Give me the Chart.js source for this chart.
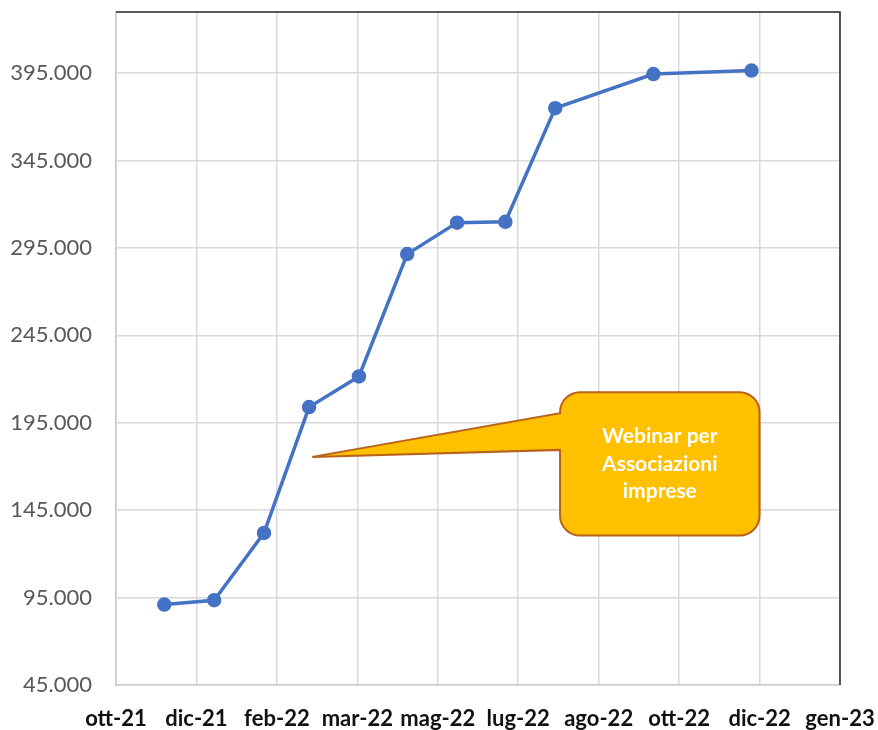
<!DOCTYPE html>
<html>
<head>
<meta charset="utf-8">
<script src="https://cdn.jsdelivr.net/npm/chart.js"></script>
<style>
  body { margin: 0; background: #fff; }
  #wrap { width: 878px; height: 730px; position: relative; }
</style>
</head>
<body>
<div id="wrap"><canvas id="chart"></canvas></div>
<script>
// asse x: etichette ogni 50 giorni a partire dal 31/10/2021
const xLabels = ['ott-21', 'dic-21', 'feb-22', 'mar-22', 'mag-22', 'lug-22', 'ago-22', 'ott-22', 'dic-22', 'gen-23'];
const xStart = '2021-10-31';
const xStepDays = 50;

// date di rilevazione (fine mese) e valori cumulati
const dates = ['2021-11-30', '2021-12-31', '2022-01-31', '2022-02-28', '2022-03-31', '2022-04-30',
               '2022-05-31', '2022-06-30', '2022-07-31', '2022-09-30', '2022-11-30'];
const values = [91000, 93500, 132000, 204000, 221500, 291500, 309500, 310000, 375000, 394500, 396500];

const yTicks = [45000, 95000, 145000, 195000, 245000, 295000, 345000, 395000];
const yMax = 430000;

// fumetto
const calloutLines = ['Webinar per', 'Associazioni', 'imprese'];

function dayOffset(d) {
    const a = new Date(xStart + 'T00:00:00Z');
    const b = new Date(d + 'T00:00:00Z');
    return Math.round((b - a) / 86400000);
}

function fmt(v) {
    return String(v).replace(/\B(?=(\d{3})+(?!\d))/g, '.');
}

const points = dates.map((d, i) => ({ x: dayOffset(d), y: values[i] }));
const xMax = xStepDays * (xLabels.length - 1);

const frame = {
    id: 'frame',
    afterDraw(chart) {
        const a = chart.chartArea;
        const ctx = chart.ctx;
        ctx.save();
        ctx.strokeStyle = '#262626';
        ctx.lineWidth = 1.5;
        ctx.beginPath();
        ctx.moveTo(a.left, a.top);
        ctx.lineTo(a.right, a.top);
        ctx.lineTo(a.right, a.bottom);
        ctx.stroke();
        ctx.restore();
    }
};

const callout = {
    id: 'callout',
    afterDatasetsDraw(chart) {
        const x = chart.scales.x, y = chart.scales.y;
        const ctx = chart.ctx;
        // punta del fumetto e riquadro, in unita' degli assi
        const tipX = x.getPixelForValue(122), tipY = y.getPixelForValue(175500);
        const l = x.getPixelForValue(276), r = x.getPixelForValue(400);
        const t = y.getPixelForValue(212500), b = y.getPixelForValue(130500);
        const baseHi = y.getPixelForValue(200500), baseLo = y.getPixelForValue(179500);
        const rad = 20;
        ctx.save();
        ctx.beginPath();
        ctx.moveTo(tipX, tipY);
        ctx.lineTo(l, baseLo);
        ctx.arcTo(l, b, r, b, rad);
        ctx.arcTo(r, b, r, t, rad);
        ctx.arcTo(r, t, l, t, rad);
        ctx.arcTo(l, t, l, b, rad);
        ctx.lineTo(l, baseHi);
        ctx.closePath();
        ctx.fillStyle = '#FFC000';
        ctx.fill();
        ctx.strokeStyle = '#B9621B';
        ctx.lineWidth = 2;
        ctx.lineJoin = 'miter';
        ctx.stroke();

        ctx.fillStyle = '#ffffff';
        ctx.font = 'bold 21px Lato';
        ctx.textAlign = 'center';
        ctx.textBaseline = 'middle';
        const cx = (l + r) / 2, cy = (t + b) / 2;
        const lh = 27.5;
        calloutLines.forEach((s, i) => {
            ctx.fillText(s, cx, cy + (i - (calloutLines.length - 1) / 2) * lh);
        });
        ctx.restore();
    }
};

new Chart(document.getElementById('chart'), {
    type: 'line',
    data: {
        datasets: [{
            data: points,
            borderColor: '#4472C4',
            backgroundColor: '#4472C4',
            borderWidth: 3.5,
            pointRadius: 5.5,
            pointHoverRadius: 5.5,
            tension: 0
        }]
    },
    options: {
        responsive: true,
        maintainAspectRatio: false,
        animation: false,
        layout: { padding: { top: 12, right: 38, left: 0, bottom: 0 } },
        plugins: {
            legend: { display: false },
            tooltip: { enabled: false }
        },
        scales: {
            x: {
                type: 'linear',
                min: 0,
                max: xMax,
                afterBuildTicks(scale) {
                    scale.ticks = xLabels.map((_, i) => ({ value: i * xStepDays }));
                },
                afterFit(scale) {
                    scale.height = 45;
                    scale.paddingLeft = 0;
                    scale.paddingRight = 0;
                },
                grid: { color: '#d9d9d9', lineWidth: 1.5, drawTicks: false },
                border: { color: '#c8c8c8', width: 1.5 },
                ticks: {
                    padding: 21,
                    color: '#111111',
                    font: { family: 'Lato', size: 22, weight: 'bold' },
                    maxRotation: 0,
                    autoSkip: false,
                    callback(v, i) { return xLabels[i]; }
                }
            },
            y: {
                min: yTicks[0],
                max: yMax,
                afterBuildTicks(scale) {
                    scale.ticks = yTicks.map(v => ({ value: v }));
                },
                afterFit(scale) {
                    scale.width = 116;
                    scale.paddingTop = 0;
                    scale.paddingBottom = 0;
                },
                grid: { color: '#d9d9d9', lineWidth: 1.5, drawTicks: false },
                border: { color: '#c8c8c8', width: 1.5 },
                ticks: {
                    padding: 24,
                    color: '#595959',
                    font: { family: 'Lato', size: 22 },
                    callback(v) { return fmt(v); }
                }
            }
        }
    },
    plugins: [frame, callout]
});
</script>
</body>
</html>
